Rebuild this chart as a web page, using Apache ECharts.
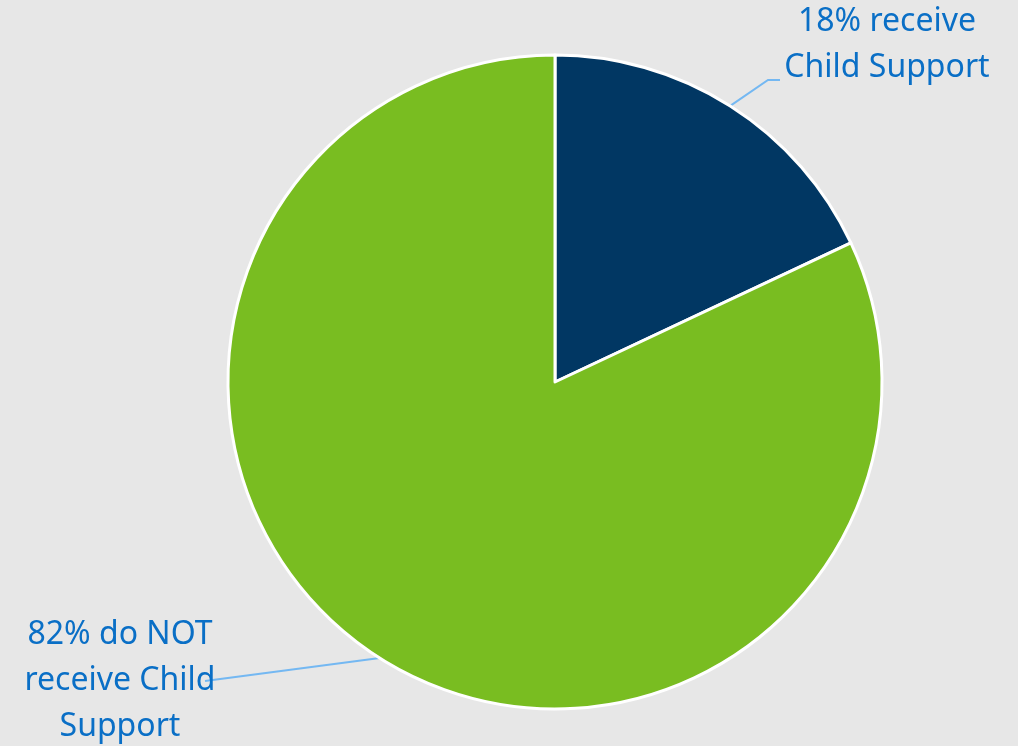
<!DOCTYPE html>
<html>
<head>
<meta charset="utf-8">
<script src="https://cdn.jsdelivr.net/npm/echarts@6/dist/echarts.min.js"></script>
<style>
html,body{margin:0;padding:0;background:#e7e7e7;}
#chart{width:1018px;height:746px;}
</style>
</head>
<body>
<div id="chart"></div>
<script>
const categories = ['18% receive\nChild Support', '82% do NOT\nreceive Child\nSupport'];
const values = [18, 82];
const colors = ['#013763', '#79bd21'];

const chart = echarts.init(document.getElementById('chart'));
chart.setOption({
  backgroundColor: '#e7e7e7',
  animation: false,
  series: [{
    type: 'pie',
    center: [555, 382],
    radius: 327,
    startAngle: 90,
    clockwise: true,
    data: categories.map((c, i) => ({ name: c, value: values[i], itemStyle: { color: colors[i] } })),
    itemStyle: { borderColor: '#ffffff', borderWidth: 3 },
    label: {
      show: true,
      position: 'outside',
      formatter: '{b}',
      color: '#0a6fc6',
      fontFamily: 'Noto Sans',
      fontSize: 32,
      lineHeight: 46,
      align: 'center'
    },
    labelLine: { show: true, lineStyle: { color: '#74b8f2', width: 2 } },
    emphasis: { disabled: true }
  }]
});
chart.setOption({
  series: [{
    labelLayout: function (p) {
      const start = p.labelLinePoints ? p.labelLinePoints[0] : null;
      if (p.dataIndex === 0) {
        return {
          x: 887, y: 45, align: 'center', verticalAlign: 'middle',
          labelLinePoints: start ? [start, [768, 80], [780, 80]] : undefined
        };
      }
      return {
        x: 120, y: 681, align: 'center', verticalAlign: 'middle',
        labelLinePoints: start ? [start, [205, 681], [205, 681]] : undefined
      };
    }
  }]
});
</script>
</body>
</html>
